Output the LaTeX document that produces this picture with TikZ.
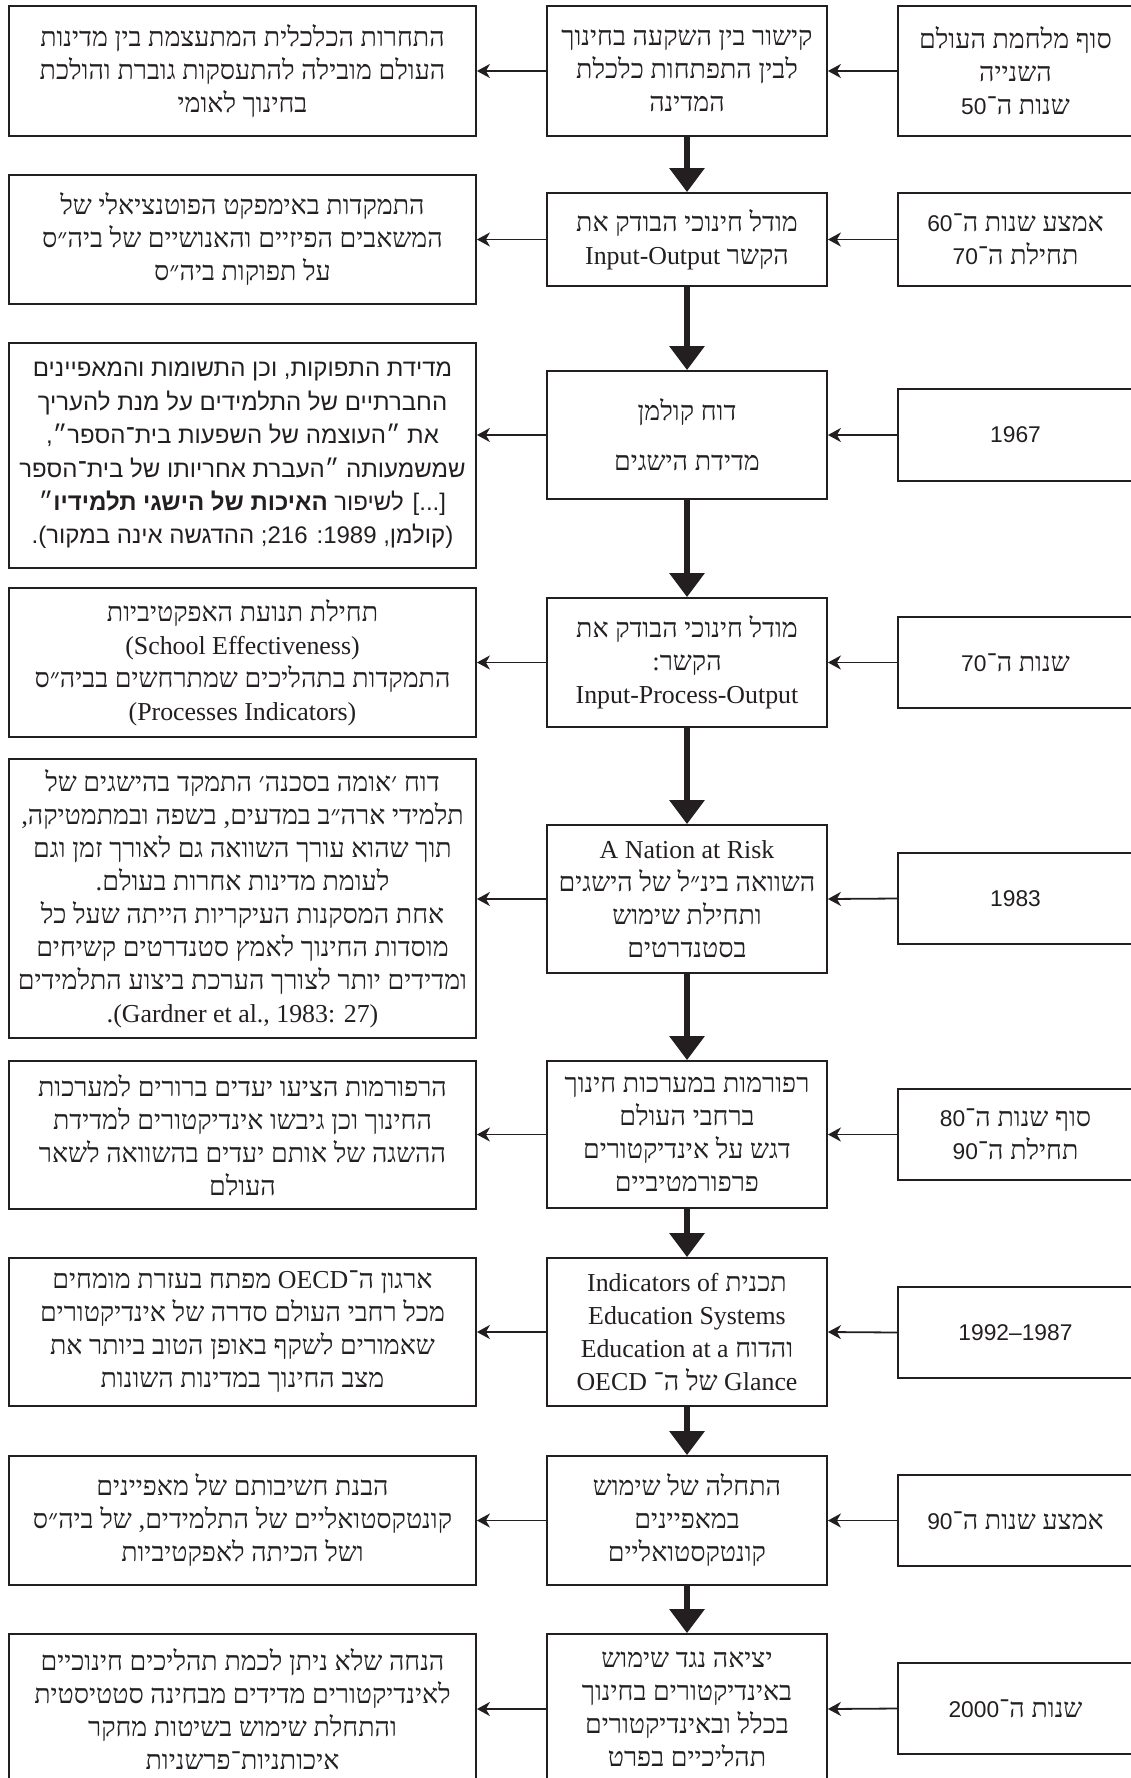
\documentclass[tikz,border=0pt]{standalone}
\usepackage{fontspec}
\setmainfont{Liberation Serif}[Scale=0.965]
\newfontfamily\hs[Script=Hebrew]{Liberation Serif}
\newfontfamily\hsans[Script=Hebrew]{Liberation Sans}
\newfontfamily\hdig{Liberation Sans}[Scale=0.85]
\TeXXeTstate=1
\usetikzlibrary{arrows.meta}
\newcommand\RL[1]{\beginR#1\endR}
\newcommand\LR[1]{\beginL{\rmfamily #1}\endL{}}
\newcommand\dg[1]{{\hdig #1}}
\definecolor{ink}{HTML}{231F20}
\tikzset{
  box/.style={draw=ink, line width=1.8pt, inner sep=0pt, align=center, text=ink,
    font=\hs\fontsize{26.8}{33}\selectfont},
  sbox/.style={box, font=\hsans\fontsize{24}{33.4}\selectfont},
  harrow/.style={draw=ink, line width=1.8pt, -{Stealth[length=13pt,width=14pt,inset=4pt]}},
  varrow/.style={draw=ink, line width=6.5pt, -{Triangle[length=24pt,width=34pt]}},
  lw/.style={minimum width=467pt},
  mw/.style={minimum width=280pt},
  rw/.style={minimum width=235pt},
}
\begin{document}
\begin{tikzpicture}[x=1pt,y=-1pt]
\useasboundingbox (0,0) rectangle (1131,1778);
% ---------- row 1
\node[box,rw,minimum height=130pt] (r1) at (1015.5,71) {\RL{סוף מלחמת העולם}\\\RL{השנייה}\\\RL{שנות ה־\dg{50}}};
\node[box,mw,minimum height=130pt] (m1) at (687,71) {\RL{קישור בין השקעה בחינוך}\\\RL{לבין התפתחות כלכלת}\\\RL{המדינה}};
\node[box,lw,minimum height=130pt] (l1) at (242.5,71) {\RL{התחרות הכלכלית המתעצמת בין מדינות}\\\RL{העולם מובילה להתעסקות גוברת והולכת}\\\RL{בחינוך לאומי}};
% ---------- row 2
\node[box,rw,minimum height=93pt] (r2) at (1015.5,239.5) {\RL{אמצע שנות ה־\dg{60}}\\\RL{תחילת ה־\dg{70}}};
\node[box,mw,minimum height=93pt] (m2) at (687,239.5) {\RL{מודל חינוכי הבודק את}\\\RL{הקשר \LR{Input-Output}}};
\node[box,lw,minimum height=129pt] (l2) at (242.5,239.5) {\RL{התמקדות באימפקט הפוטנציאלי של}\\\RL{המשאבים הפיזיים והאנושיים של ביה״ס}\\\RL{על תפוקות ביה״ס}};
% ---------- row 3
\node[box,rw,minimum height=92pt] (r3) at (1015.5,435) {\dg{1967}};
\node[box,mw,minimum height=128pt] (m3) at (687,435) {\RL{דוח קולמן}\\[17pt]\RL{מדידת הישגים}};
\node[sbox,lw,minimum height=225pt] (l3) at (242.5,455.5) {\RL{מדידת התפוקות, וכן התשומות והמאפיינים}\\\RL{החברתיים של התלמידים על מנת להעריך}\\\RL{את ״העוצמה של השפעות בית־הספר״,}\\\RL{שמשמעותה ״העברת אחריותו של בית־הספר}\\\RL{[...] לשיפור {\bfseries האיכות של הישגי תלמידיו}״}\\\RL{(קולמן, 1989: 216; ההדגשה אינה במקור).}};
% ---------- row 4
\node[box,rw,minimum height=91pt] (r4) at (1015.5,662.5) {\RL{שנות ה־\dg{70}}};
\node[box,mw,minimum height=129pt] (m4) at (687,662.5) {\RL{מודל חינוכי הבודק את}\\\RL{הקשר:}\\\LR{Input-Process-Output}};
\node[box,lw,minimum height=149pt] (l4) at (242.5,662.5) {\RL{תחילת תנועת האפקטיביות}\\\LR{(School Effectiveness)}\\\RL{התמקדות בתהליכים שמתרחשים בביה״ס}\\\LR{(Processes Indicators)}};
% ---------- row 5
\node[box,rw,minimum height=91pt] (r5) at (1015.5,898.5) {\dg{1983}};
\node[box,mw,minimum height=148pt] (m5) at (687,899) {\LR{A Nation at Risk}\\\RL{השוואה בינ״ל של הישגים}\\\RL{ותחילת שימוש}\\\RL{בסטנדרטים}};
\node[box,lw,minimum height=279pt] (l5) at (242.5,898.5) {\RL{דוח ׳אומה בסכנה׳ התמקד בהישגים של}\\\RL{תלמידי ארה״ב במדעים, בשפה ובמתמטיקה,}\\\RL{תוך שהוא עורך השוואה גם לאורך זמן וגם}\\\RL{לעומת מדינות אחרות בעולם.}\\\RL{אחת המסקנות העיקריות הייתה שעל כל}\\\RL{מוסדות החינוך לאמץ סטנדרטים קשיחים}\\\RL{ומדידים יותר לצורך הערכת ביצוע התלמידים}\\\RL{\LR{(Gardner et al., 1983: 27)}.}};
% ---------- row 6
\node[box,rw,minimum height=91pt] (r6) at (1015.5,1134.5) {\RL{סוף שנות ה־\dg{80}}\\\RL{תחילת ה־\dg{90}}};
\node[box,mw,minimum height=147pt] (m6) at (687,1134.5) {\RL{רפורמות במערכות חינוך}\\\RL{ברחבי העולם}\\\RL{דגש על אינדיקטורים}\\\RL{פרפורמטיביים}};
\node[box,lw,minimum height=148pt] (l6) at (242.5,1135) {\RL{הרפורמות הציעו יעדים ברורים למערכות}\\\RL{החינוך וכן גיבשו אינדיקטורים למדידת}\\\RL{ההשגה של אותם יעדים בהשוואה לשאר}\\\RL{העולם}};
% ---------- row 7
\node[box,rw,minimum height=91pt] (r7) at (1015.5,1332.5) {\dg{1992–1987}};
\node[box,mw,minimum height=148pt] (m7) at (687,1332) {\RL{תכנית\ \LR{Indicators of}}\\\LR{Education Systems}\\\RL{והדוח\ \LR{Education at a}}\\\RL{\LR{Glance} של ה־ \LR{OECD}}};
\node[box,lw,minimum height=148pt] (l7) at (242.5,1332) {\RL{ארגון ה־\LR{OECD} מפתח בעזרת מומחים}\\\RL{מכל רחבי העולם סדרה של אינדיקטורים}\\\RL{שאמורים לשקף באופן הטוב ביותר את}\\\RL{מצב החינוך במדינות השונות}};
% ---------- row 8
\node[box,rw,minimum height=91pt] (r8) at (1015.5,1520.5) {\RL{אמצע שנות ה־\dg{90}}};
\node[box,mw,minimum height=129pt] (m8) at (687,1520.5) {\RL{התחלה של שימוש}\\\RL{במאפיינים}\\\RL{קונטקסטואליים}};
\node[box,lw,minimum height=129pt] (l8) at (242.5,1520.5) {\RL{הבנת חשיבותם של מאפיינים}\\\RL{קונטקסטואליים של התלמידים, של ביה״ס}\\\RL{ושל הכיתה לאפקטיביות}};
% ---------- row 9
\node[box,rw,minimum height=91pt] (r9) at (1015.5,1708.5) {\RL{שנות ה־\dg{2000}}};
\node[box,mw,minimum height=150pt] (m9) at (687,1709) {\RL{יציאה נגד שימוש}\\\RL{באינדיקטורים בחינוך}\\\RL{בכלל ובאינדיקטורים}\\\RL{תהליכיים בפרט}};
\node[box,lw,minimum height=150pt] (l9) at (242.5,1709) {\RL{הנחה שלא ניתן לכמת תהליכים חינוכיים}\\\RL{לאינדיקטורים מדידים מבחינה סטטיסטית}\\\RL{והתחלת שימוש בשיטות מחקר}\\\RL{איכותניות־פרשניות}};
% ---------- connectors
\foreach \i [count=\j from 2] in {1,...,8} {
  \draw[varrow] (m\i.south) -- (m\j.north);
}
\foreach \i in {1,...,9} {
  \draw[harrow] (r\i.west) -- (m\i.east);
  \draw[harrow] (m\i.west) -- (m\i.west -| l\i.east);
}
\end{tikzpicture}
\end{document}
